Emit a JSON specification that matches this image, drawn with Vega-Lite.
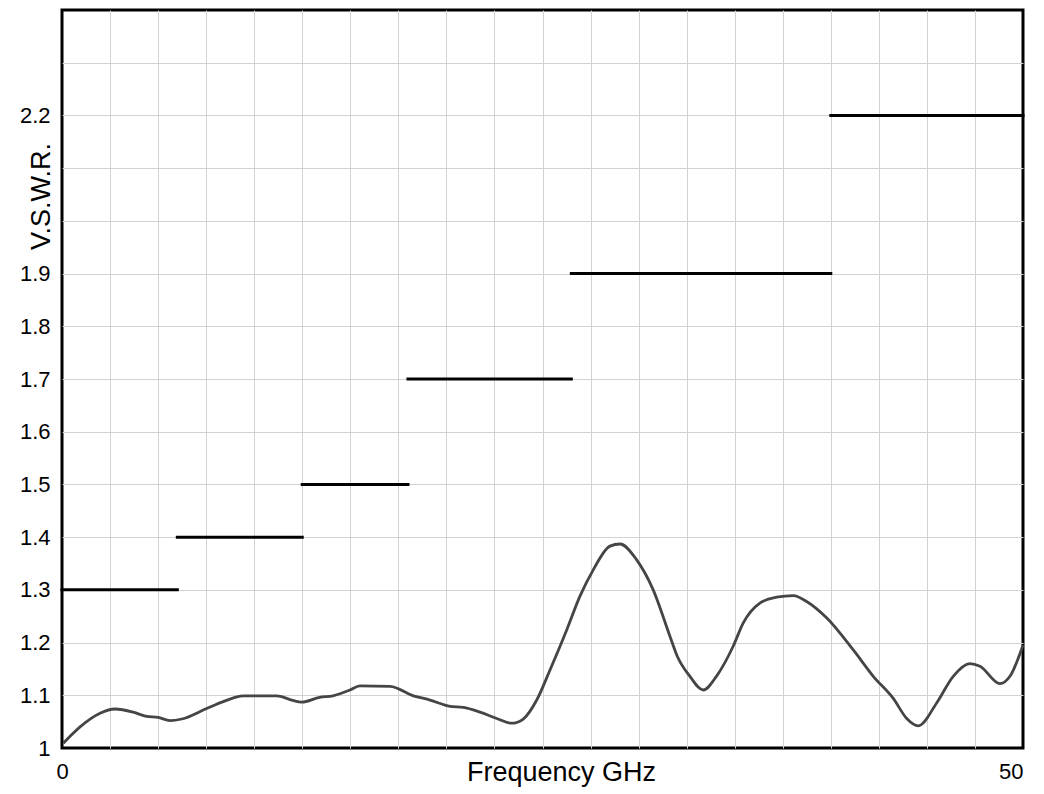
{
  "$schema": "https://vega.github.io/schema/vega-lite/v6.json",
  "width": 961,
  "height": 738,
  "autosize": "none",
  "padding": {"left": 62, "top": 10, "right": 21, "bottom": 46},
  "background": "white",
  "config": {
    "view": {"stroke": "#000000", "strokeWidth": 3, "strokeOpacity": 1},
    "font": "Liberation Sans"
  },
  "datasets": {
    "vswr": [
      {"f": 0.07, "v": 1.009}, {"f": 0.5, "v": 1.025}, {"f": 0.94, "v": 1.040}, {"f": 1.98, "v": 1.066},
      {"f": 2.76, "v": 1.074}, {"f": 3.71, "v": 1.068}, {"f": 4.4, "v": 1.060}, {"f": 5.0, "v": 1.058},
      {"f": 5.62, "v": 1.052}, {"f": 6.23, "v": 1.055}, {"f": 7.53, "v": 1.075}, {"f": 8.39, "v": 1.088},
      {"f": 9.43, "v": 1.099}, {"f": 11.17, "v": 1.099}, {"f": 11.95, "v": 1.091}, {"f": 12.47, "v": 1.087},
      {"f": 13.4, "v": 1.096}, {"f": 14.1, "v": 1.099}, {"f": 14.98, "v": 1.110}, {"f": 15.5, "v": 1.118},
      {"f": 17.07, "v": 1.117}, {"f": 18.28, "v": 1.099}, {"f": 19.15, "v": 1.091}, {"f": 20.19, "v": 1.079},
      {"f": 20.88, "v": 1.077}, {"f": 21.75, "v": 1.068}, {"f": 22.62, "v": 1.056}, {"f": 23.4, "v": 1.047},
      {"f": 24.0, "v": 1.055}, {"f": 24.7, "v": 1.091}, {"f": 25.39, "v": 1.148}, {"f": 26.26, "v": 1.224},
      {"f": 26.95, "v": 1.288}, {"f": 27.64, "v": 1.338}, {"f": 28.51, "v": 1.383}, {"f": 29.03, "v": 1.387},
      {"f": 29.9, "v": 1.357}, {"f": 30.76, "v": 1.300}, {"f": 31.63, "v": 1.212}, {"f": 32.0, "v": 1.175},
      {"f": 32.67, "v": 1.136}, {"f": 33.36, "v": 1.110}, {"f": 34.05, "v": 1.136}, {"f": 34.92, "v": 1.193},
      {"f": 35.44, "v": 1.237}, {"f": 36.31, "v": 1.275}, {"f": 37.18, "v": 1.286}, {"f": 38.05, "v": 1.289},
      {"f": 38.74, "v": 1.278}, {"f": 39.78, "v": 1.247}, {"f": 41.17, "v": 1.186}, {"f": 42.21, "v": 1.136},
      {"f": 43.25, "v": 1.094}, {"f": 43.95, "v": 1.056}, {"f": 44.55, "v": 1.042}, {"f": 45.5, "v": 1.085},
      {"f": 46.37, "v": 1.136}, {"f": 47.24, "v": 1.160}, {"f": 47.76, "v": 1.155}, {"f": 48.8, "v": 1.122},
      {"f": 49.32, "v": 1.136}, {"f": 50.0, "v": 1.195}
    ],
    "limits": [
      {"f": 0, "f2": 6, "v": 1.3},
      {"f": 6, "f2": 12.5, "v": 1.4},
      {"f": 12.5, "f2": 18, "v": 1.5},
      {"f": 18, "f2": 26.5, "v": 1.7},
      {"f": 26.5, "f2": 40, "v": 1.9},
      {"f": 40, "f2": 50, "v": 2.2}
    ]
  },
  "encoding": {
    "x": {
      "field": "f",
      "type": "quantitative",
      "scale": {"domain": [0, 50], "nice": false, "zero": false},
      "axis": {
        "values": [0, 2.5, 5, 7.5, 10, 12.5, 15, 17.5, 20, 22.5, 25, 27.5, 30, 32.5, 35, 37.5, 40, 42.5, 45, 47.5, 50],
        "labelExpr": "datum.value == 0 || datum.value == 50 ? format(datum.value, 'd') : ''",
        "labelAlign": {"condition": {"test": "datum.value == 50", "value": "right"}, "value": "center"},
        "labelFlush": false,
        "labelOverlap": false,
        "labelBound": false,
        "labelFontSize": 22,
        "labelColor": "black",
        "labelPadding": 13,
        "ticks": false,
        "domain": false,
        "grid": true,
        "gridColor": "#d3d3d3",
        "gridOpacity": {"condition": {"test": "datum.value == 0 || datum.value == 50", "value": 0}, "value": 1},
        "gridWidth": 1,
        "title": "Frequency GHz",
        "titleFontSize": 27,
        "titleFontWeight": "normal",
        "titleColor": "black",
        "titleX": 499,
        "titleY": 32,
        "titleAlign": "center",
        "titleBaseline": "alphabetic"
      }
    },
    "y": {
      "field": "v",
      "type": "quantitative",
      "scale": {"domain": [1, 2.4], "nice": false, "zero": false},
      "axis": {
        "values": [1, 1.1, 1.2, 1.3, 1.4, 1.5, 1.6, 1.7, 1.8, 1.9, 2.0, 2.1, 2.2, 2.3, 2.4],
        "labelExpr": "(datum.value > 1.95 && datum.value < 2.15) || datum.value > 2.25 ? '' : format(datum.value, '.1~f')",
        "labelFlush": false,
        "labelOverlap": false,
        "labelBound": false,
        "labelFontSize": 22,
        "labelColor": "black",
        "labelPadding": 12,
        "ticks": false,
        "domain": false,
        "grid": true,
        "gridColor": "#d3d3d3",
        "gridOpacity": {"condition": {"test": "datum.value < 1.05 || datum.value > 2.35", "value": 0}, "value": 1},
        "gridWidth": 1,
        "title": "V.S.W.R.",
        "titleFontSize": 27,
        "titleFontWeight": "normal",
        "titleColor": "black",
        "titleAngle": 270,
        "titleX": -13,
        "titleY": 186,
        "titleAlign": "center",
        "titleBaseline": "alphabetic"
      }
    }
  },
  "layer": [
    {
      "data": {"name": "limits"},
      "mark": {"type": "rule", "color": "black", "strokeWidth": 3, "strokeCap": "square"},
      "encoding": {"x2": {"field": "f2"}}
    },
    {
      "data": {"name": "vswr"},
      "mark": {"type": "line", "color": "#454545", "strokeWidth": 2.8, "interpolate": "monotone"}
    }
  ]
}
